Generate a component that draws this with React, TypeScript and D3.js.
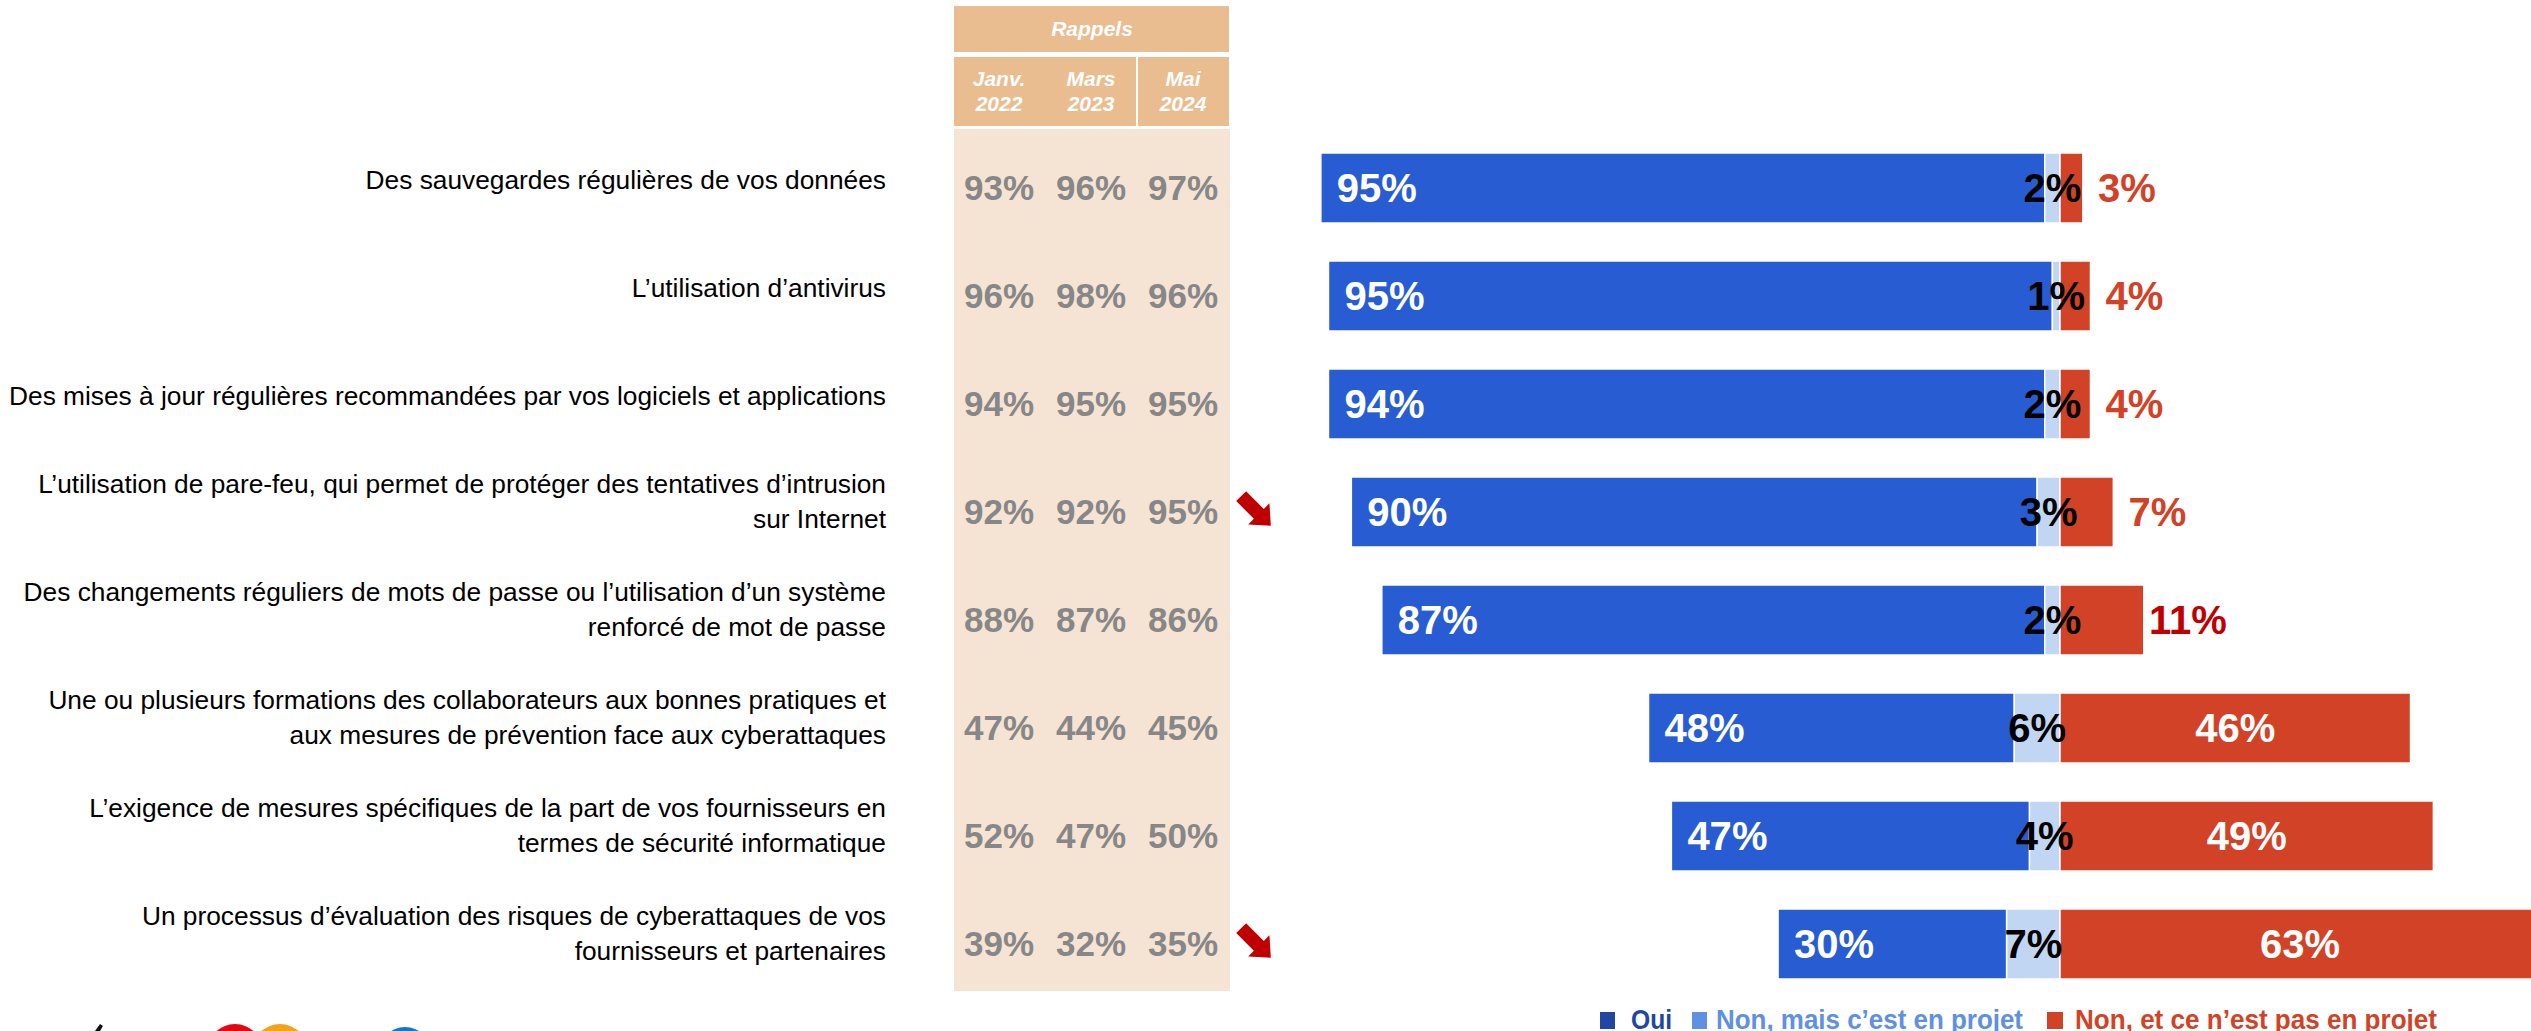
import React from "react";
import * as d3 from "d3";

const categories: string[][] = [
  ["Des sauvegardes régulières de vos données"],
  ["L’utilisation d’antivirus"],
  ["Des mises à jour régulières recommandées par vos logiciels et applications"],
  ["L’utilisation de pare-feu, qui permet de protéger des tentatives d’intrusion", "sur Internet"],
  ["Des changements réguliers de mots de passe ou l’utilisation d’un système", "renforcé de mot de passe"],
  ["Une ou plusieurs formations des collaborateurs aux bonnes pratiques et", "aux mesures de prévention face aux cyberattaques"],
  ["L’exigence de mesures spécifiques de la part de vos fournisseurs en", "termes de sécurité informatique"],
  ["Un processus d’évaluation des risques de cyberattaques de vos", "fournisseurs et partenaires"],
];

const oui = [95, 95, 94, 90, 87, 48, 47, 30];
const enProjet = [2, 1, 2, 3, 2, 6, 4, 7];
const nonPasProjet = [3, 4, 4, 7, 11, 46, 49, 63];

const rappelPeriods: string[][] = [["Janv.", "2022"], ["Mars", "2023"], ["Mai", "2024"]];
const rappelJanv2022 = [93, 96, 94, 92, 88, 47, 52, 39];
const rappelMars2023 = [96, 98, 95, 92, 87, 44, 47, 32];
const rappelMai2024 = [97, 96, 95, 95, 86, 45, 50, 35];
const downArrows = [false, false, false, true, false, false, false, true];

const legendLabels = ["Oui", "Non, mais c’est en projet", "Non, et ce n’est pas en projet"];

const C_BLUE = "#285cd2";
const C_LIGHT = "#c0d6f2";
const C_RED = "#d14226";
const FONT = "'Liberation Sans', Arial, sans-serif";

export default function App() {
  const W = 2531, H = 1031;
  const idx = d3.range(categories.length);
  const y = d3.scalePoint<number>().domain(idx).range([188, 944]);
  const x = d3.scaleLinear().domain([-100, 100]).range([2060 - 762, 2060 + 762]);
  const col = d3.scalePoint<number>().domain([0, 1, 2]).range([999, 1183]);
  const rappels = [rappelJanv2022, rappelMars2023, rappelMai2024];
  const barH = 70;

  const arrowPath = "M-21,-7 L4,-7 L4,-15 L21,0 L4,15 L4,7 L-21,7 Z";

  return (
    <svg width={W} height={H} style={{ position: "absolute", left: 0, top: 0, display: "block", background: "#fff" }} fontFamily={FONT}>
      {/* Rappels panel */}
      <rect x={954} y={6} width={275} height={46} fill="#e9bd8f" />
      <text x={1092} y={36} fill="#fff" fontSize={21} fontWeight="bold" fontStyle="italic" textAnchor="middle">Rappels</text>
      <rect x={954} y={57} width={275} height={69} fill="#e9bd8f" />
      <line x1={1137} x2={1137} y1={57} y2={126} stroke="#fff" strokeWidth={2} />
      {rappelPeriods.map((p, i) => (
        <text key={i} x={col(i)} fill="#fff" fontSize={21} fontWeight="bold" fontStyle="italic" textAnchor="middle">
          <tspan x={col(i)} y={86}>{p[0]}</tspan>
          <tspan x={col(i)} y={111}>{p[1]}</tspan>
        </text>
      ))}
      <rect x={954} y={129} width={276} height={862} fill="#f5e4d4" />
      {idx.map((i) => (
        <g key={"r" + i}>
          {rappels.map((arr, j) => (
            <text key={j} x={col(j)} y={(y(i) as number) + 12} fill="#878787" fontSize={35} fontWeight="bold" textAnchor="middle">
              {arr[i]}%
            </text>
          ))}
          {downArrows[i] && (
            <path d={arrowPath} fill="#c00000" transform={`translate(1256,${(y(i) as number) - 1}) rotate(45)`} />
          )}
        </g>
      ))}

      {/* Category labels */}
      {idx.map((i) => {
        const lines = categories[i];
        const cy = y(i) as number;
        const base = lines.length === 1 ? cy + 1 : cy - 19;
        return (
          <text key={"c" + i} fill="#000" fontSize={26.3} textAnchor="end">
            {lines.map((l, k) => (
              <tspan key={k} x={886} y={base + k * 35}>{l}</tspan>
            ))}
          </text>
        );
      })}

      {/* Bars */}
      {idx.map((i) => {
        const cy = y(i) as number;
        const top = cy - barH / 2;
        const r0 = -(oui[i] + enProjet[i]);
        const r1 = -enProjet[i];
        const big = nonPasProjet[i] > 20;
        return (
          <g key={"b" + i}>
            <rect x={x(r0)} y={top} width={x(r1) - x(r0)} height={barH} fill={C_BLUE} stroke="#fff" strokeWidth={1.5} />
            <rect x={x(r1)} y={top} width={x(0) - x(r1)} height={barH} fill={C_LIGHT} stroke="#fff" strokeWidth={1.5} />
            <rect x={x(0)} y={top} width={x(nonPasProjet[i]) - x(0)} height={barH} fill={C_RED} stroke="#fff" strokeWidth={1.5} />
            <text x={x(r0) + 16} y={cy} dy="0.36em" fill="#fff" fontSize={40} fontWeight="bold">{oui[i]}%</text>
            <text x={(x(r1) + x(0)) / 2} y={cy} dy="0.36em" fill="#000" fontSize={40} fontWeight="bold" textAnchor="middle">{enProjet[i]}%</text>
            {big ? (
              <text x={(x(0) + x(nonPasProjet[i])) / 2} y={cy} dy="0.36em" fill="#fff" fontSize={40} fontWeight="bold" textAnchor="middle">{nonPasProjet[i]}%</text>
            ) : (
              <text x={x(nonPasProjet[i]) + 44} y={cy} dy="0.36em" fill={nonPasProjet[i] >= 10 ? "#c00000" : C_RED} fontSize={40} fontWeight="bold" textAnchor="middle">{nonPasProjet[i]}%</text>
            )}
          </g>
        );
      })}

      {/* Legend */}
      <rect x={1600} y={1012} width={15} height={17} fill="#1f47a3" />
      <text x={1631} y={1029} fill="#1f47a3" fontSize={28} fontWeight="bold" textLength={41} lengthAdjust="spacingAndGlyphs">{legendLabels[0]}</text>
      <rect x={1692} y={1012} width={15} height={17} fill="#6090e2" />
      <text x={1716} y={1029} fill="#6090e2" fontSize={28} fontWeight="bold" textLength={307} lengthAdjust="spacingAndGlyphs">{legendLabels[1]}</text>
      <rect x={2047} y={1012} width={16} height={17} fill={C_RED} />
      <text x={2075} y={1029} fill={C_RED} fontSize={28} fontWeight="bold" textLength={362} lengthAdjust="spacingAndGlyphs">{legendLabels[2]}</text>

      {/* Logo fragment */}
      <path d="M95,1031 L100,1024 L103,1026 L100,1031 Z" fill="#111" />
      <circle cx={235} cy={1052} r={28} fill="#e30613" />
      <circle cx={280} cy={1052} r={28} fill="#f4a11c" />
      <circle cx={405} cy={1053} r={26} fill="#1a73c4" />
    </svg>
  );
}
